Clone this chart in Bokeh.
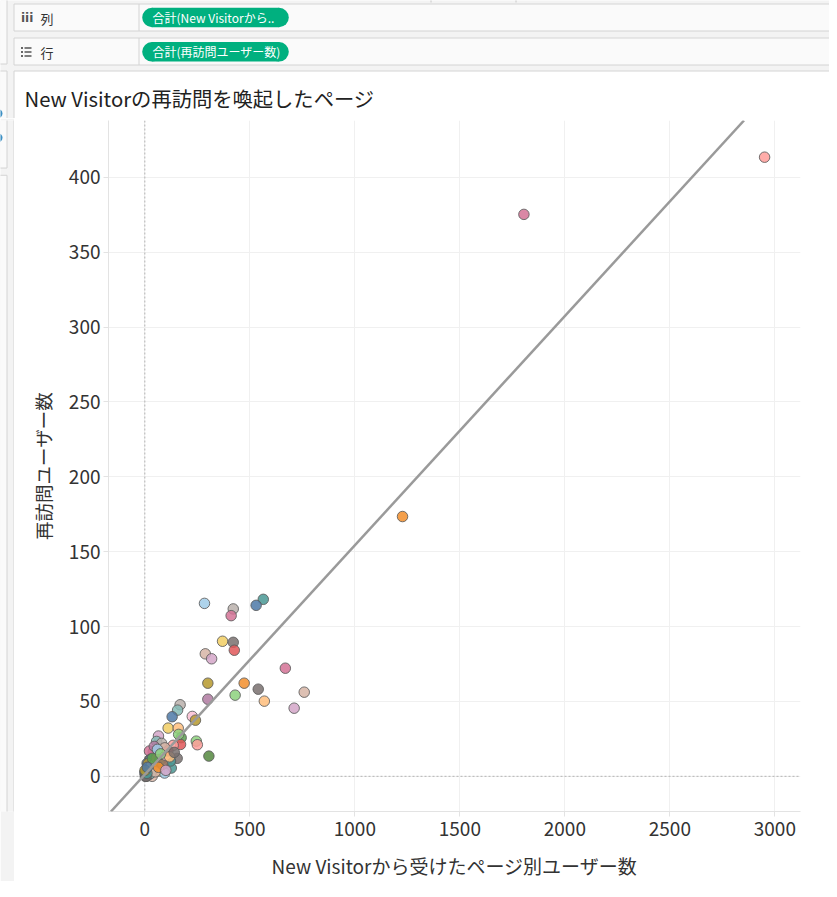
from bokeh.plotting import figure
from bokeh.models import Range1d, Span, Slope, ColumnDataSource
from bokeh.layouts import column, row
from bokeh.embed import file_html
from bokeh.resources import INLINE
from bokeh.core.properties import value

FONT = "Noto Sans CJK JP"

# ---------------- texts ----------------
title_text = "New Visitorの再訪問を喚起したページ"
x_label = "New Visitorから受けたページ別ユーザー数"
y_label = "再訪問ユーザー数"
shelf_labels = ["列", "行"]
pill_texts = ["合計(New Visitorから..", "合計(再訪問ユーザー数)"]

# ---------------- ticks ----------------
x_ticks = [0, 500, 1000, 1500, 2000, 2500, 3000]
y_ticks = [0, 50, 100, 150, 200, 250, 300, 350, 400]

# ---------------- palette (Tableau 20) ----------------
B, LB, O, LO = "#4E79A7", "#A0CBE8", "#F28E2B", "#FFBE7D"
G, LG, OL, Y = "#59A14F", "#8CD17D", "#B6992D", "#F1CE63"
T, LT, R, PK = "#499894", "#86BCB6", "#E15759", "#FF9D9A"
GR, LGR, M, LP = "#79706E", "#BAB0AC", "#D37295", "#FABFD2"
PU, LV, BR, TN = "#B07AA1", "#D4A6C8", "#9D7660", "#D7B5A6"
DG = "#55883F"

# ---------------- data ----------------
new_visitor_users = [
    2951, 1805, 1227, 284, 564, 530, 421, 411, 370, 421,
    426, 288, 318, 669, 300, 473, 540, 759, 430, 300,
    569, 711, 168, 156, 130, 226, 241, 111, 159, 173,
    170, 245, 250, 305, 65, 56, 154, 126, 70, 94,
    78, 40, 135, 90, 24, 11, 22, 62, 27, 16,
    122, 43, 0, 11, 35, 161, 80, 5, 3, 8,
    15, 20, 30, 50, 55, 70, 85, 100, 110, 95,
    118, 45, 60, 140, 2, 18, 28, 50, 65, 100,
    36, 75, 3, 6, 10, 1, 12,
]
revisit_users = [
    413.5, 375.3, 173.5, 115.5, 118.2, 114.2, 111.8, 107.3, 90.2, 89.5,
    84.2, 81.8, 78.5, 72.2, 62.2, 62.2, 58.2, 56.2, 54.2, 51.5,
    50.2, 45.5, 47.8, 44.2, 39.8, 40.0, 37.5, 32.2, 32.2, 25.8,
    21.3, 23.5, 21.1, 13.5, 26.9, 23.3, 12.0, 5.5, 3.5, 2.2,
    18.5, 16.2, 20.7, 13.1, 11.3, 8.7, 16.9, 14.0, 11.3, 8.5,
    10.2, 6.9, 2.5, 0.2, 0.0, 28.0, 22.0, 1.0, 3.0, 4.0,
    3.0, 5.0, 7.0, 9.0, 12.0, 10.0, 8.0, 14.0, 17.0, 19.0,
    13.0, 20.0, 18.0, 16.0, 0.0, 1.0, 2.0, 3.0, 6.0, 4.0,
    12.0, 15.0, 1.0, 0.0, 2.0, 4.0, 6.0,
]
page_colors = [
    PK, M, O, LB, T, B, LGR, M, Y, GR,
    R, TN, LV, M, OL, O, GR, TN, LG, PU,
    LO, LV, LGR, LT, B, LP, OL, Y, LO, G,
    R, LG, PK, DG, LV, LT, GR, T, Y, LB,
    LGR, M, PK, PU, OL, B, M, PU, B, OL,
    T, T, B, OL, TN, LG, LGR, GR, B, T,
    GR, OL, Y, LT, R, G, BR, LP, R, TN,
    LO, PU, LB, GR, GR, B, LT, TN, O, LV,
    G, LG, B, GR, T, OL, B,
]

# trend line
trend_slope = 0.1531
trend_intercept = 1.2

UI_BG = "#f3f3f3"
BOX = "#fafafa"
EDGE = "#d4d4d4"
BLUE_ICON = "#3b8fc4"

# ---------------- top chrome (shelves + title) ----------------
top = figure(width=829, height=118, x_range=Range1d(0, 829), y_range=Range1d(118, 0),
             toolbar_location=None, output_backend="svg", min_border=0,
             x_axis_location=None, y_axis_location=None)
top.grid.visible = False
top.outline_line_color = None
top.background_fill_color = UI_BG
top.border_fill_color = UI_BG

# left column boxes
top.quad(left=[-5, -5], right=[6.5, 6.5], top=[-5, 70.5], bottom=[63.5, 170.5],
         fill_color=BOX, line_color=EDGE, line_width=1)
top.circle(x=[-2.5, -2.5], y=[113, 137], radius=4.5, fill_color=BLUE_ICON, line_color=None)
# toolbar separators at the very top
top.segment(x0=[430.5, 515.5], y0=[-1, -1], x1=[430.5, 515.5], y1=[2, 2],
            line_color="#c8c8c8", line_width=1)
# shelves
top.quad(left=[13.5, 13.5], right=[840, 840], top=[3.5, 37.5], bottom=[30.5, 64.5],
         fill_color=BOX, line_color=EDGE, line_width=1)
top.quad(left=[13.5], right=[840], top=[70.5], bottom=[140],
         fill_color="#ffffff", line_color=EDGE, line_width=1)
top.segment(x0=[138.5, 138.5], y0=[3.5, 37.5], x1=[138.5, 138.5], y1=[30.5, 64.5],
            line_color=EDGE, line_width=1)

pill_green = "#00B07F"
pill_y = [17.0, 51.3]
top.quad(left=[151.4, 151.4], right=[278.6, 278.6],
         top=[pill_y[0] - 9.7, pill_y[1] - 9.7], bottom=[pill_y[0] + 9.7, pill_y[1] + 9.7],
         fill_color=pill_green, line_color=None)
top.circle(x=[151.4, 278.6, 151.4, 278.6], y=[pill_y[0], pill_y[0], pill_y[1], pill_y[1]],
           radius=9.7, fill_color=pill_green, line_color=None)
top.text(x=[152, 152], y=pill_y, text=pill_texts, text_font=value(FONT),
         text_font_size="12px", text_color="#ffffff", text_baseline="middle")

top.text(x=[40, 40], y=[17.5, 51.5], text=shelf_labels, text_font=value(FONT),
         text_font_size="13px", text_color="#333333", text_baseline="middle")
top.text(x=[20.5], y=[17.5], text=["iii"], text_font=value("DejaVu Sans"),
         text_font_size="12px", text_font_style="bold", text_color="#555555",
         text_baseline="middle")
top.segment(x0=[24, 24, 24], y0=[47.5, 51.5, 55.5], x1=[31, 31, 31], y1=[47.5, 51.5, 55.5],
            line_color="#555555", line_width=1.6)
top.rect(x=[21.5, 21.5, 21.5], y=[47.5, 51.5, 55.5], width=1.8, height=1.8,
         fill_color="#555555", line_color=None)

top.text(x=[24], y=[97], text=[title_text], text_font=value(FONT),
         text_font_size="20.3px", text_color="#222222", text_baseline="middle")

# ---------------- left strip ----------------
strip = figure(width=14, height=763, x_range=Range1d(0, 14), y_range=Range1d(881, 118),
               toolbar_location=None, output_backend="svg", min_border=0,
               x_axis_location=None, y_axis_location=None)
strip.grid.visible = False
strip.outline_line_color = None
strip.background_fill_color = UI_BG
strip.border_fill_color = UI_BG
strip.quad(left=[-5, -5], right=[6.5, 6.5], top=[70.5, 178.5], bottom=[170.5, 900],
           fill_color=BOX, line_color=EDGE, line_width=1)
strip.circle(x=[-2.5, -2.5], y=[113, 137], radius=4.5, fill_color=BLUE_ICON, line_color=None)
strip.segment(x0=[13.5], y0=[100], x1=[13.5], y1=[900], line_color=EDGE, line_width=1)

# ---------------- main scatter ----------------
p = figure(width=815, height=763, x_range=Range1d(-173, 3122), y_range=Range1d(-23.5, 438),
           toolbar_location=None, output_backend="svg",
           min_border_left=94, min_border_right=29, min_border_top=2, min_border_bottom=69)
p.background_fill_color = "#ffffff"
p.border_fill_color = "#ffffff"
p.outline_line_color = None

p.xaxis.ticker = x_ticks
p.yaxis.ticker = y_ticks
p.xgrid.grid_line_color = "#f0f0f0"
p.ygrid.grid_line_color = "#f0f0f0"

for ax in (p.xaxis[0], p.yaxis[0]):
    ax.axis_line_color = "#e3e3e3"
    ax.major_tick_line_color = "#e3e3e3"
    ax.major_tick_out = 5
    ax.major_tick_in = 0
    ax.minor_tick_line_color = None
    ax.major_label_text_font = FONT
    ax.major_label_text_font_size = "19px"
    ax.major_label_text_color = "#333333"
    ax.axis_label_text_font = FONT
    ax.axis_label_text_font_style = "normal"
    ax.axis_label_text_color = "#333333"

p.xaxis.axis_label_text_font_size = "19px"
p.yaxis.axis_label_text_font_size = "18.5px"
p.xaxis.axis_label = x_label
p.yaxis.axis_label = y_label
p.xaxis.major_label_standoff = 5
p.xaxis.axis_label_standoff = 13
p.yaxis.major_label_standoff = 3
p.yaxis.axis_label_standoff = 10

p.add_layout(Span(location=0, dimension="height", line_color="#b4b4b4",
                  line_dash="2 2", line_width=1, level="underlay"))
p.add_layout(Span(location=0, dimension="width", line_color="#b4b4b4",
                  line_dash="2 2", line_width=1, level="underlay"))

src = ColumnDataSource(dict(x=new_visitor_users, y=revisit_users, c=page_colors))
p.scatter("x", "y", source=src, size=10.5, fill_color="c", fill_alpha=0.85,
          line_color="#5a5a5a", line_alpha=0.85, line_width=1)

p.add_layout(Slope(gradient=trend_slope, y_intercept=trend_intercept,
                   line_color="#9a9a9a", line_width=2.5))

layout = column(top, row(strip, p))

open("out.html", "w").write(file_html(layout, INLINE))
